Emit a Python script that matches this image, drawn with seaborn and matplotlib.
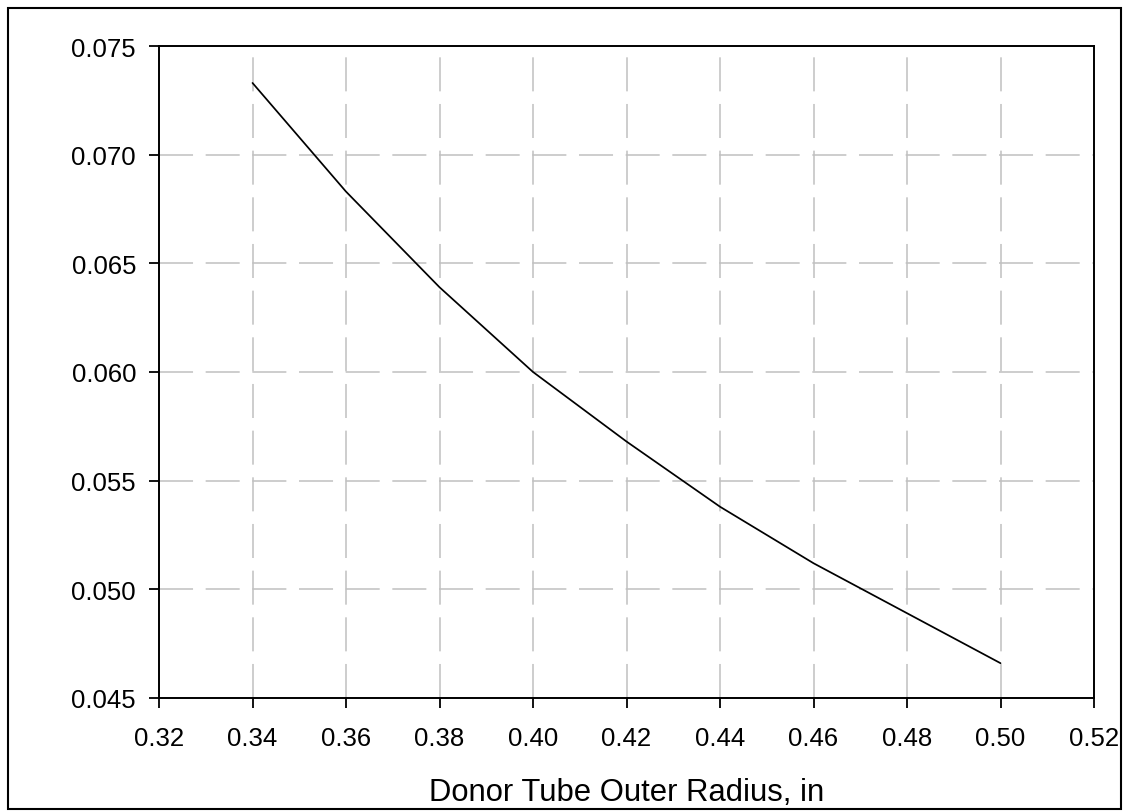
import seaborn as sns
import matplotlib.pyplot as plt
import pandas as pd
from matplotlib.patches import Rectangle

# 数据
radius = [0.34, 0.36, 0.38, 0.40, 0.42, 0.44, 0.46, 0.48, 0.50]
values = [0.0733, 0.0683, 0.0639, 0.0600, 0.0568, 0.0538, 0.0512, 0.0489, 0.0466]
x_ticks = [0.32, 0.34, 0.36, 0.38, 0.40, 0.42, 0.44, 0.46, 0.48, 0.50, 0.52]
y_ticks = [0.045, 0.050, 0.055, 0.060, 0.065, 0.070, 0.075]
x_label = 'Donor Tube Outer Radius, in'

sns.set_style('ticks')
plt.rcParams['font.family'] = ['Liberation Sans', 'DejaVu Sans']
plt.rcParams['lines.scale_dashes'] = False
plt.rcParams['text.color'] = 'black'
plt.rcParams['axes.labelcolor'] = 'black'
plt.rcParams['xtick.color'] = 'black'
plt.rcParams['ytick.color'] = 'black'

df = pd.DataFrame({'radius': radius, 'value': values})

fig = plt.figure(figsize=(11.23, 8.12), dpi=100)
ax = fig.add_axes([0.1416, 0.1392, 0.8326, 0.8029])

sns.lineplot(data=df, x='radius', y='value', color='black', linewidth=1.25, ax=ax)

ax.set_xlim(0.32, 0.52)
ax.set_ylim(0.045, 0.075)
ax.set_xticks(x_ticks)
ax.set_yticks(y_ticks)
ax.set_xticklabels([f'{t:.2f}' for t in x_ticks])
ax.set_yticklabels([f'{t:.3f}' for t in y_ticks])
ax.tick_params(axis='both', labelsize=18.5, length=7, width=1.3,
               color='black', labelcolor='black')
ax.tick_params(axis='x', pad=13.5)
ax.tick_params(axis='y', pad=9.5)

ax.grid(True, color='#c0c0c0', linewidth=1.1, linestyle=(0, (24.5, 9.1)))
ax.set_axisbelow(True)

for s in ax.spines.values():
    s.set_visible(True)
    s.set_color('black')
    s.set_linewidth(1.4)

ax.set_xlabel(x_label, fontsize=22.3, labelpad=19, color='black')
ax.set_ylabel('')

# 外框
fig.patches.append(Rectangle((8 / 1123, 2 / 812), 1113 / 1123, 801 / 812,
                             transform=fig.transFigure, fill=False,
                             edgecolor='black', linewidth=1.5))

plt.savefig('out.png', dpi=100)
